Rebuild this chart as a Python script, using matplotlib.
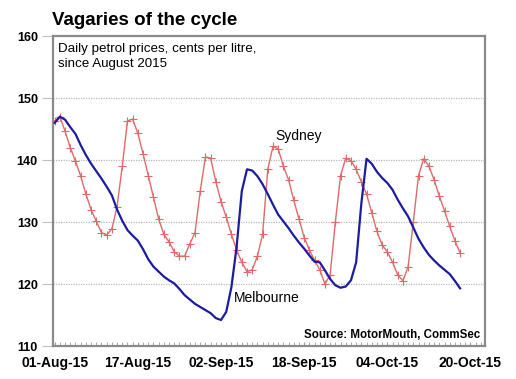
import matplotlib
matplotlib.use("Agg")
import matplotlib.pyplot as plt
import matplotlib.dates as mdates
import pandas as pd
import numpy as np

plt.rcParams['font.family'] = ['Liberation Sans', 'DejaVu Sans']

start_date = "2015-08-01"
sydney = [146.3, 147.0, 144.6, 142.0, 139.8, 137.4, 134.5, 132.0, 130.1, 128.3,
          127.9, 128.9, 132.5, 139.0, 146.3, 146.6, 144.3, 141.0, 137.5, 134.0,
          130.5, 128.0, 126.8, 125.2, 124.5, 124.5, 126.5, 128.3, 135.0, 140.5,
          140.3, 136.5, 133.3, 130.8, 128.0, 125.5, 123.5, 122.0, 122.3, 124.5,
          128.0, 138.5, 142.2, 141.8, 139.0, 136.8, 133.5, 130.5, 127.5, 125.5,
          123.8, 122.3, 120.0, 121.5, 130.0, 137.5, 140.3, 139.9, 138.5, 136.5,
          134.5, 131.5, 128.5, 126.3, 125.2, 123.5, 121.5, 120.5, 122.8, 130.0,
          137.5, 140.2, 139.0, 136.8, 134.2, 131.8, 129.3, 127.0, 125.0]
melbourne = [146.0, 147.0, 146.5, 145.3, 144.2, 142.4, 140.8, 139.4, 138.2, 137.0,
             135.7, 134.3, 132.0, 130.2, 128.7, 127.8, 127.0, 125.6, 124.0, 122.8,
             122.0, 121.2, 120.6, 120.1, 119.2, 118.2, 117.5, 116.8, 116.3, 115.8,
             115.3, 114.5, 114.2, 115.5, 119.5, 126.0, 135.0, 138.5, 138.3, 137.4,
             136.1, 134.5, 132.8, 131.2, 130.1, 129.0, 127.8, 126.7, 125.7, 124.6,
             123.6, 123.5, 122.2, 120.8, 119.8, 119.4, 119.6, 120.6, 123.5, 133.0,
             140.2, 139.4, 138.1, 137.1, 136.3, 135.2, 133.6, 132.2, 130.9, 129.1,
             127.3, 125.9, 124.7, 123.8, 123.0, 122.3, 121.6, 120.5, 119.3]
y_ticks = [110, 120, 130, 140, 150, 160]
x_tick_labels = ["01-Aug-15", "17-Aug-15", "02-Sep-15", "18-Sep-15", "04-Oct-15", "20-Oct-15"]

dates = pd.date_range(start_date, periods=len(sydney), freq="D")
tick_dates = pd.to_datetime(x_tick_labels, format="%d-%b-%y")

fig = plt.figure(figsize=(5.16, 3.79), dpi=100)
ax = fig.add_axes([0.103, 0.087, 0.837, 0.818])

ax.plot(dates, sydney, color='#e06a6a', lw=1.0, marker='+', ms=6, mew=0.8, zorder=3)
ax.plot(dates, melbourne, color='#1c1ca0', lw=1.6, zorder=4)

x0 = mdates.date2num(pd.Timestamp(start_date))
ax.set_xlim(x0 - 0.3, x0 + 82.8)
ax.set_ylim(110, 160)
ax.set_yticks(y_ticks)
ax.set_yticklabels([str(v) for v in y_ticks], fontweight='bold', fontsize=9)
ax.set_xticks(mdates.date2num(tick_dates))
ax.set_xticklabels(x_tick_labels, fontweight='bold', fontsize=10)
ax.xaxis.set_minor_locator(mdates.DayLocator())

for v in y_ticks[1:-1]:
    ax.axhline(v, color='#bbbbbb', lw=0.9, ls=(0, (1, 1)), zorder=1)

for s in ax.spines.values():
    s.set_color('#8a8a8a')
    s.set_linewidth(1.6)

ax.tick_params(axis='y', direction='out', length=8, color='#c0c0c0', pad=3)
ax.tick_params(axis='x', which='major', direction='in', length=3, color='#999999', pad=7)
ax.tick_params(axis='x', which='minor', direction='in', length=3, color='#999999')

fig.text(0.101, 0.945, "Vagaries of the cycle", fontsize=13.5, fontweight='bold',
         ha='left', va='center')
ax.text(0.012, 0.978, "Daily petrol prices, cents per litre,\nsince August 2015",
        transform=ax.transAxes, fontsize=9.6, ha='left', va='top', linespacing=1.35)
ax.text(0.99, 0.035, "Source: MotorMouth, CommSec", transform=ax.transAxes,
        fontsize=8.3, fontweight='bold', ha='right', va='center')
ax.annotate("Sydney", xy=(x0 + 42.4, 143.9), fontsize=10, ha='left', va='center')
ax.annotate("Melbourne", xy=(x0 + 34.5, 117.7), fontsize=10, ha='left', va='center')

fig.savefig("out.png", dpi=100)
